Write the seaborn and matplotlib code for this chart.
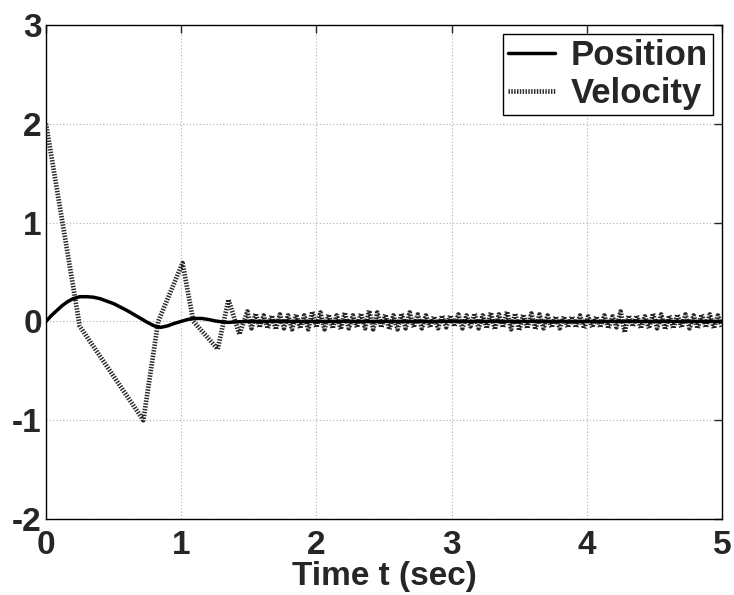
import numpy as np
import pandas as pd
import matplotlib
matplotlib.use("Agg")
import matplotlib.pyplot as plt
import seaborn as sns

# ---------------- data ----------------
pos_t = [0, 0.04, 0.08, 0.12, 0.16, 0.20, 0.25, 0.30, 0.35, 0.40, 0.50, 0.60,
         0.70, 0.75, 0.80, 0.85, 0.90, 0.95, 1.00, 1.05, 1.10, 1.15, 1.20,
         1.25, 1.30, 1.35, 1.40, 1.50, 2.0, 3.0, 4.0, 5.0]
pos_v = [0.0, 0.06, 0.11, 0.16, 0.20, 0.23, 0.25, 0.25, 0.245, 0.23, 0.18, 0.11,
         0.03, -0.01, -0.045, -0.06, -0.045, -0.02, 0.0, 0.02, 0.03, 0.03, 0.02,
         0.005, -0.005, -0.01, -0.005, 0.0, 0.0, 0.0, 0.0, 0.0]

vel_t = [0, 0.25, 0.72, 0.83, 1.01, 1.09, 1.27, 1.35, 1.43, 1.49,
         1.52, 1.55, 1.58, 1.61, 1.64, 1.67, 1.70, 1.73, 1.76, 1.79,
         1.82, 1.85, 1.88, 1.91, 1.94, 1.97, 2.00, 2.03, 2.06, 2.09,
         2.12, 2.15, 2.18, 2.21, 2.24, 2.27, 2.30, 2.33, 2.36, 2.39,
         2.42, 2.45, 2.48, 2.51, 2.54, 2.57, 2.60, 2.63, 2.66, 2.69,
         2.72, 2.75, 2.78, 2.81, 2.84, 2.87, 2.90, 2.93, 2.96, 2.99,
         3.02, 3.05, 3.08, 3.11, 3.14, 3.17, 3.20, 3.23, 3.26, 3.29,
         3.32, 3.35, 3.38, 3.41, 3.44, 3.47, 3.50, 3.53, 3.56, 3.59,
         3.62, 3.65, 3.68, 3.71, 3.74, 3.77, 3.80, 3.83, 3.86, 3.89,
         3.92, 3.95, 3.98, 4.01, 4.04, 4.07, 4.10, 4.13, 4.16, 4.19,
         4.22, 4.25, 4.28, 4.31, 4.34, 4.37, 4.40, 4.43, 4.46, 4.49,
         4.52, 4.55, 4.58, 4.61, 4.64, 4.67, 4.70, 4.73, 4.76, 4.79,
         4.82, 4.85, 4.88, 4.91, 4.94, 4.97, 5.00]
vel_v = [2.0, -0.05, -1.0, 0.0, 0.59, 0.0, -0.28, 0.22, -0.13, 0.10,
         -0.07, 0.08, -0.06, 0.06, -0.07, 0.06, -0.08, 0.07, -0.07, 0.06,
         -0.08, 0.07, -0.07, 0.06, -0.08, 0.10, -0.06, 0.09, -0.08, 0.07,
         -0.07, 0.06, -0.08, 0.09, -0.07, 0.06, -0.06, 0.08, -0.07, 0.11,
         -0.08, 0.09, -0.06, 0.07, -0.08, 0.06, -0.08, 0.08, -0.07, 0.09,
         -0.06, 0.07, -0.07, 0.06, -0.06, 0.05, -0.07, 0.06, -0.06, 0.06,
         -0.05, 0.07, -0.07, 0.06, -0.05, 0.08, -0.07, 0.06, -0.07, 0.09,
         -0.08, 0.07, -0.06, 0.10, -0.08, 0.08, -0.09, 0.07, -0.07, 0.08,
         -0.08, 0.07, -0.07, 0.06, -0.06, 0.05, -0.07, 0.05, -0.06, 0.05,
         -0.06, 0.06, -0.07, 0.05, -0.06, 0.05, -0.06, 0.06, -0.07, 0.05,
         -0.06, 0.10, -0.11, 0.06, -0.05, 0.06, -0.07, 0.05, -0.07, 0.08,
         -0.07, 0.07, -0.08, 0.06, -0.07, 0.07, -0.06, 0.07, -0.07, 0.06,
         -0.07, 0.07, -0.06, 0.07, -0.07, 0.06, -0.06]

x_ticks = [0, 1, 2, 3, 4, 5]
y_ticks = [-2, -1, 0, 1, 2, 3]
x_label = "Time t (sec)"
labels = ["Position", "Velocity"]

# ---------------- plot ----------------
sns.set_style("white")
plt.rcParams["font.family"] = ["Liberation Sans", "DejaVu Sans"]
plt.rcParams["font.weight"] = "bold"

fig = plt.figure(figsize=(7.34, 5.95), dpi=100)
ax = fig.add_axes([46 / 734, 76 / 595, 676 / 734, 494 / 595])

df_pos = pd.DataFrame({"t": pos_t, "y": pos_v})
df_vel = pd.DataFrame({"t": vel_t, "y": vel_v})

sns.lineplot(data=df_pos, x="t", y="y", ax=ax, color="black", linewidth=2.5,
             label=labels[0], zorder=4, sort=False)
sns.lineplot(data=df_vel, x="t", y="y", ax=ax, color="#262626", linewidth=3.4,
             linestyle=(0, (0.3, 0.3)), label=labels[1], zorder=3, sort=False)

ax.set_xlim(0, 5)
ax.set_ylim(-2, 3)
ax.set_xticks(x_ticks)
ax.set_yticks(y_ticks)
ax.set_xticklabels([str(v) for v in x_ticks])
ax.set_yticklabels([str(v) for v in y_ticks])
ax.grid(True, linestyle=(0, (1, 2)), color="#b0b0b0", linewidth=0.8)
ax.tick_params(direction="in", length=6, width=1, top=True, right=True,
               labelsize=24)
ax.tick_params(axis="x", pad=8)
ax.tick_params(axis="y", pad=3)
for lab in ax.get_xticklabels() + ax.get_yticklabels():
    lab.set_fontweight("bold")
for sp in ax.spines.values():
    sp.set_visible(True)
    sp.set_color("black")
    sp.set_linewidth(1.0)

ax.set_xlabel(x_label, fontsize=24, fontweight="bold", labelpad=0)
ax.set_ylabel("")

leg = ax.legend(loc="upper right", fontsize=25, frameon=True, fancybox=False,
                edgecolor="black", framealpha=1, borderpad=0.15,
                labelspacing=0.15, handlelength=1.35, handletextpad=0.45,
                borderaxespad=0.25)
leg.get_frame().set_linewidth(1.0)
for txt in leg.get_texts():
    txt.set_fontweight("bold")

fig.savefig("out.png", dpi=100)
